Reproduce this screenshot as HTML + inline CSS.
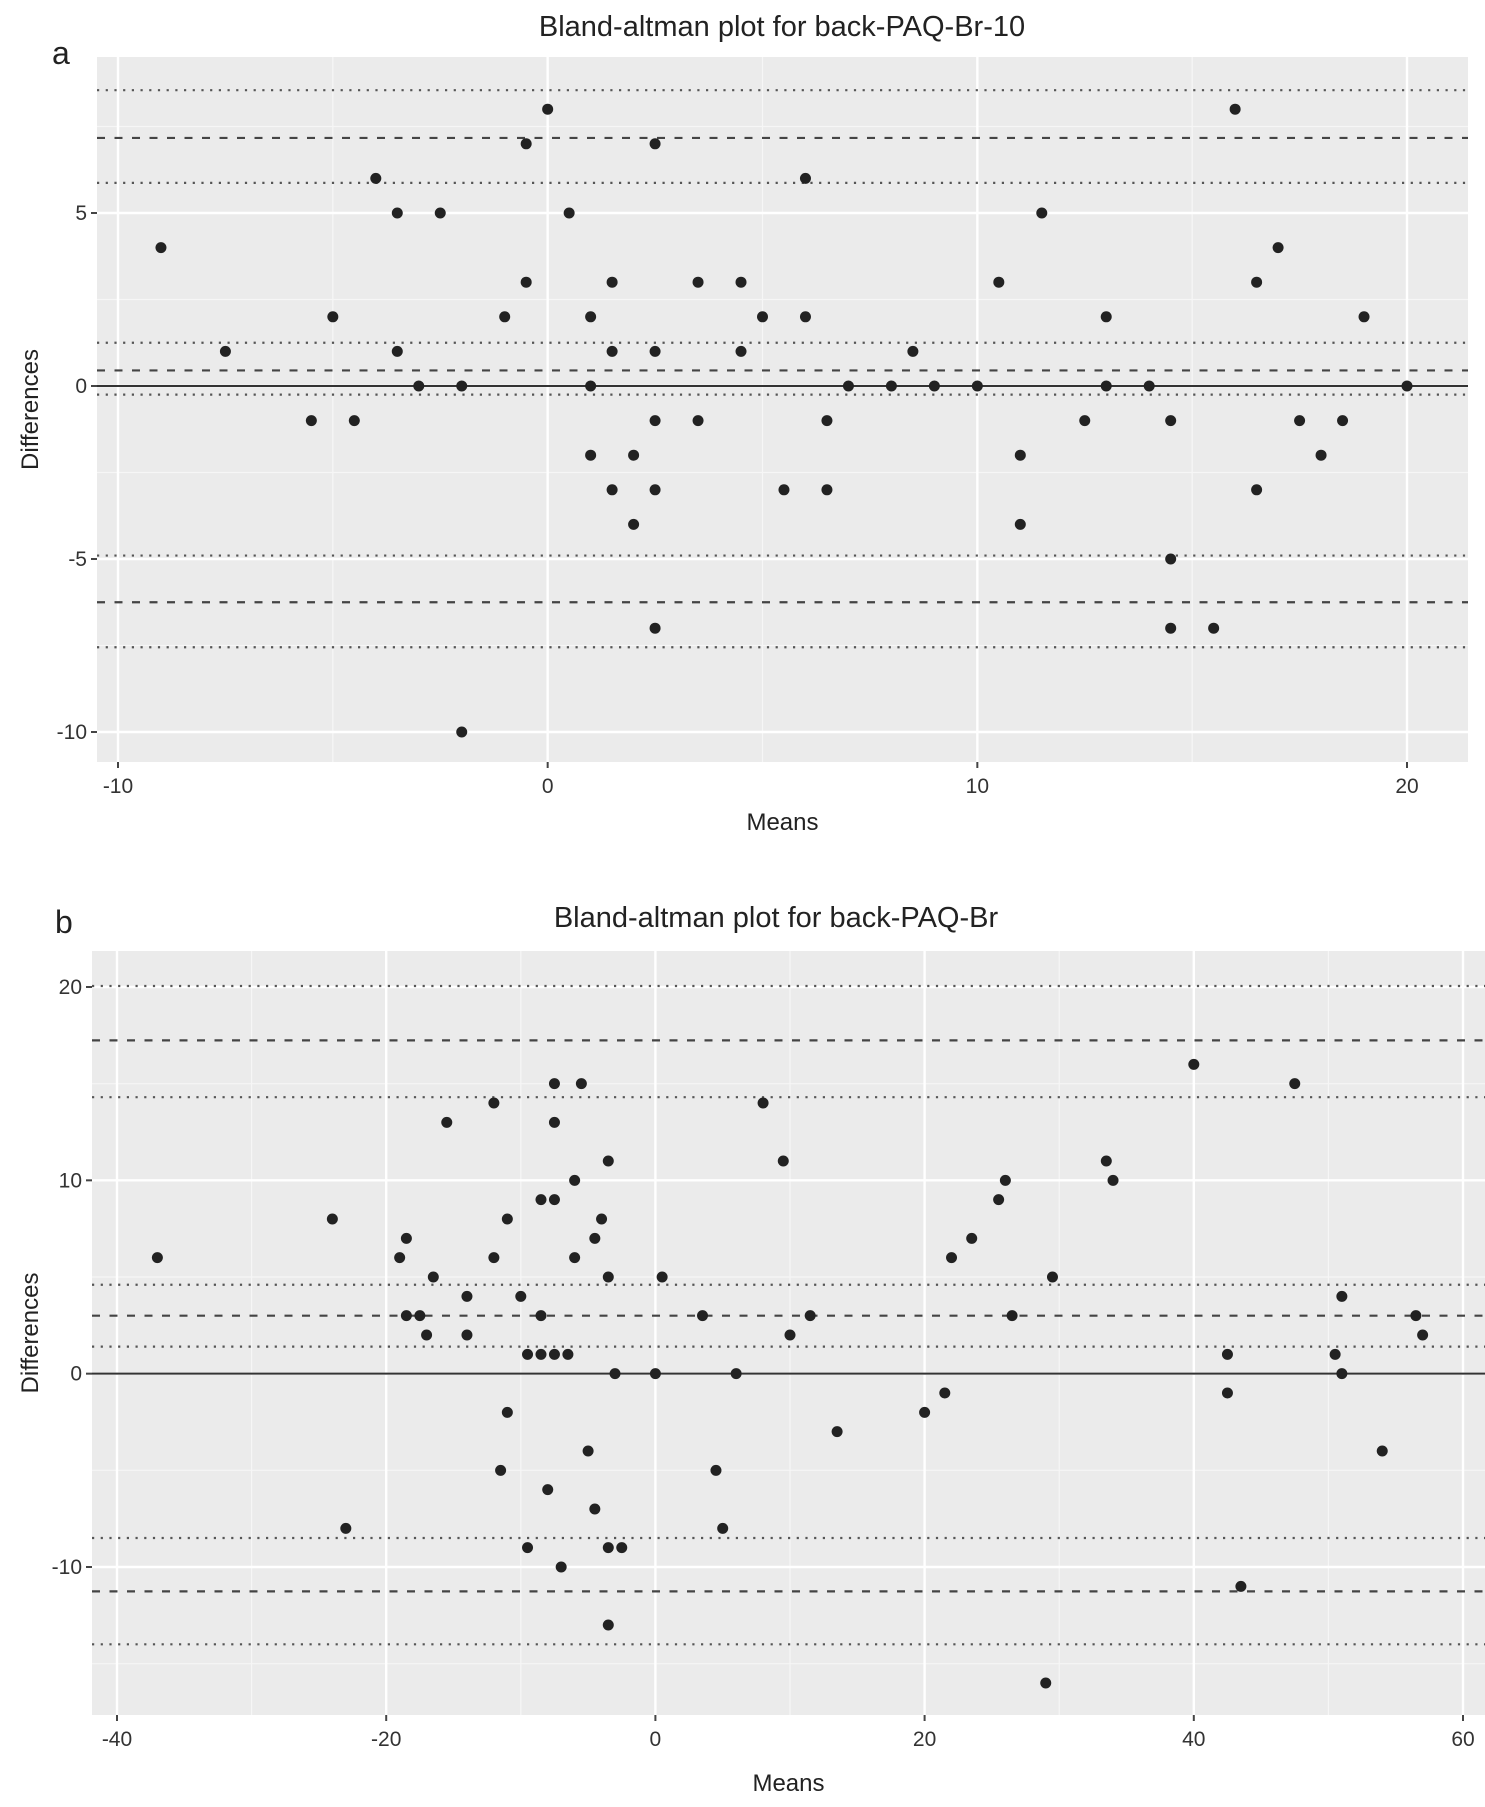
<!DOCTYPE html>
<html><head><meta charset="utf-8"><style>
html,body{margin:0;padding:0;background:#fff;}
svg{display:block;font-family:"Liberation Sans",sans-serif;}
</style></head><body>
<svg id="chart" width="1485" height="1807" viewBox="0 0 1485 1807" xmlns="http://www.w3.org/2000/svg"></svg>
<script>
// Panel a data
const aMeans = [-9,-7.5,-5.5,-5,-4.5,-4,-3.5,-3.5,-3,-2.5,-2,-2,-1,-0.5,-0.5,0,0.5,1,1,1,1.5,1.5,1.5,2,2,2.5,2.5,2.5,2.5,2.5,3.5,3.5,4.5,4.5,5,5.5,6,6,6.5,6.5,7,8,8.5,9,10,10.5,11,11,11.5,12.5,13,13,14,14.5,14.5,14.5,15.5,16,16.5,16.5,17,17.5,18,18.5,19,20];
const aDiffs = [4,1,-1,2,-1,6,5,1,0,5,0,-10,2,7,3,8,5,2,0,-2,3,1,-3,-2,-4,7,1,-1,-3,-7,3,-1,3,1,2,-3,6,2,-1,-3,0,0,1,0,0,3,-2,-4,5,-1,2,0,0,-1,-5,-7,-7,8,3,-3,4,-1,-2,-1,2,0];
const aMeanLine = [0];
const aDashed = [7.17,0.45,-6.25];
const aDotted = [8.55,5.87,1.25,-0.25,-4.9,-7.55];
const aXTicks = [-10,0,10,20];
const aXMinor = [-5,5,15];
const aYTicks = [5,0,-5,-10];
const aYMinor = [7.5,2.5,-2.5,-7.5];
// Panel b data
const bMeans = [-37,-24,-23,-19,-18.5,-18.5,-17.5,-17,-16.5,-15.5,-14,-14,-12,-12,-11.5,-11,-11,-10,-9.5,-9.5,-8.5,-8.5,-8.5,-8,-7.5,-7.5,-7.5,-7.5,-7,-6.5,-6,-6,-5.5,-5,-4.5,-4.5,-4,-3.5,-3.5,-3.5,-3.5,-3,-2.5,0,0.5,3.5,4.5,5,6,8,9.5,10,11.5,13.5,20,21.5,22,23.5,25.5,26,26.5,29.5,29,33.5,34,40,42.5,42.5,43.5,47.5,50.5,51,51,54,56.5,57];
const bDiffs = [6,8,-8,6,7,3,3,2,5,13,4,2,14,6,-5,8,-2,4,1,-9,9,3,1,-6,15,13,9,1,-10,1,10,6,15,-4,7,-7,8,11,5,-9,-13,0,-9,0,5,3,-5,-8,0,14,11,2,3,-3,-2,-1,6,7,9,10,3,5,-16,11,10,16,1,-1,-11,15,1,4,0,-4,3,2];
const bMeanLine = [0];
const bDashed = [17.24,3.0,-11.26];
const bDotted = [20.05,14.3,4.6,1.4,-8.5,-14.0];
const bXTicks = [-40,-20,0,20,40,60];
const bXMinor = [-30,-10,10,30,50];
const bYTicks = [20,10,0,-10];
const bYMinor = [15,5,-5,-15];

const NS="http://www.w3.org/2000/svg";
const svg=document.getElementById('chart');
function mk(tag,attrs,parent){const e=document.createElementNS(NS,tag);for(const k in attrs)e.setAttribute(k,attrs[k]);(parent||svg).appendChild(e);return e;}

function panel(cfg){
  const g=mk('g',{});
  
  
  const xs=v=>cfg.x0px+(v-cfg.x0v)*(cfg.x1px-cfg.x0px)/(cfg.x1v-cfg.x0v);
  const ys=v=>cfg.y0px+(v-cfg.y0v)*(cfg.y1px-cfg.y0px)/(cfg.y1v-cfg.y0v);
  const bg=mk('rect',{x:cfg.L,y:cfg.T,width:cfg.R-cfg.L,height:cfg.B-cfg.T,fill:'#ebebeb'},g);
  
  
  cfg.xMinor.forEach(v=>mk('line',{x1:xs(v),x2:xs(v),y1:cfg.T,y2:cfg.B,stroke:'#f6f6f6','stroke-width':1.2},g));
  cfg.yMinor.forEach(v=>mk('line',{x1:cfg.L,x2:cfg.R,y1:ys(v),y2:ys(v),stroke:'#f6f6f6','stroke-width':1.2},g));
  cfg.xTicks.forEach(v=>{
    mk('line',{x1:xs(v),x2:xs(v),y1:cfg.T,y2:cfg.B,stroke:'#fff','stroke-width':2.4},g);
    mk('line',{x1:xs(v),x2:xs(v),y1:cfg.B,y2:cfg.B+6,stroke:'#444','stroke-width':2},g);
    const t=mk('text',{x:xs(v),y:cfg.B+31,'text-anchor':'middle','font-size':21,fill:'#333'},g);
    t.textContent=v;
    
    
  });
  cfg.yTicks.forEach(v=>{
    mk('line',{x1:cfg.L,x2:cfg.R,y1:ys(v),y2:ys(v),stroke:'#fff','stroke-width':2.4},g);
    mk('line',{x1:cfg.L-6,x2:cfg.L,y1:ys(v),y2:ys(v),stroke:'#444','stroke-width':2},g);
    const t=mk('text',{x:cfg.L-10,y:ys(v)+7,'text-anchor':'end','font-size':21,fill:'#333'},g);
    t.textContent=v;
    
    
  });
  cfg.dotted.forEach(v=>{
    const l=mk('line',{x1:cfg.L,x2:cfg.R,y1:ys(v),y2:ys(v),stroke:'#555','stroke-width':2.2,'stroke-dasharray':'2.2 6.5'},g);
    
    
  });
  cfg.dashed.forEach(v=>{
    const l=mk('line',{x1:cfg.L,x2:cfg.R,y1:ys(v),y2:ys(v),stroke:'#444','stroke-width':2.2,'stroke-dasharray':'8 9.5'},g);
    
    
  });
  cfg.zero.forEach(v=>{
    const l=mk('line',{x1:cfg.L,x2:cfg.R,y1:ys(v),y2:ys(v),stroke:'#333','stroke-width':2},g);
    
    
  });
  cfg.means.forEach((m,i)=>{
    const c=mk('circle',{cx:xs(m),cy:ys(cfg.diffs[i]),r:5.5,fill:'#222'},g);
    
    
  });
  const tt=mk('text',{x:cfg.titleX,y:cfg.titleY,'text-anchor':'middle','font-size':29,fill:'#222'},g);
  tt.textContent=cfg.title;
  
  
  const lt=mk('text',{x:cfg.letterX,y:cfg.letterY,'font-size':32,fill:'#222'},g);
  lt.textContent=cfg.letter;
  
  
  const xt=mk('text',{x:(cfg.L+cfg.R)/2,y:cfg.B+cfg.xtOff,'text-anchor':'middle','font-size':24,fill:'#222'},g);
  xt.textContent='Means';
  
  
  const cy=(cfg.T+cfg.B)/2;
  const yt=mk('text',{x:0,y:0,'text-anchor':'middle','font-size':24,fill:'#222',transform:'translate(38,'+cy+') rotate(-90)'},g);
  yt.textContent='Differences';
  
  
}

panel({id:'panel-a',L:97,R:1468,T:57,B:762,x0v:-10,x0px:118,x1v:20,x1px:1407,y0v:5,y0px:213,y1v:-10,y1px:732,
  xTicks:aXTicks,xMinor:aXMinor,yTicks:aYTicks,yMinor:aYMinor,dotted:aDotted,dashed:aDashed,zero:aMeanLine,
  means:aMeans,diffs:aDiffs,title:'Bland-altman plot for back-PAQ-Br-10',titleX:782,titleY:36,letter:'a',letterX:52,letterY:64,xtOff:68});
panel({id:'panel-b',L:92,R:1485,T:951,B:1715,x0v:-40,x0px:117,x1v:60,x1px:1463,y0v:20,y0px:987,y1v:-10,y1px:1567,
  xTicks:bXTicks,xMinor:bXMinor,yTicks:bYTicks,yMinor:bYMinor,dotted:bDotted,dashed:bDashed,zero:bMeanLine,
  means:bMeans,diffs:bDiffs,title:'Bland-altman plot for back-PAQ-Br',titleX:776,titleY:927,letter:'b',letterX:55,letterY:933,xtOff:76});
</script>
</body></html>
